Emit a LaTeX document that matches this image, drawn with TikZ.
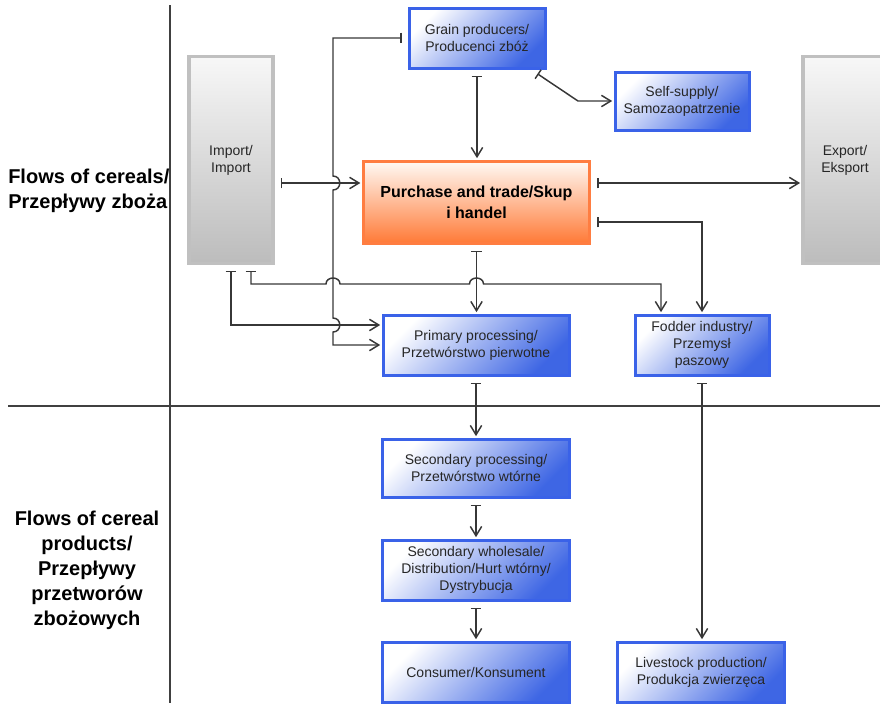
\documentclass[tikz,border=0pt]{standalone}
\usepackage{fontspec}
\setmainfont{Liberation Sans}
\usetikzlibrary{arrows.meta,calc}

\definecolor{boxblue}{RGB}{62,102,228}
\definecolor{edgeblue}{RGB}{58,98,232}
\definecolor{boxorange}{RGB}{255,122,55}
\definecolor{edgeorange}{RGB}{255,125,65}
\definecolor{boxgrey}{RGB}{188,188,188}
\definecolor{edgegrey}{RGB}{192,192,192}
\definecolor{flowgrey}{RGB}{55,55,55}

\tikzset{
  unit/.style={rectangle, draw=edgeblue, line width=2.25pt, top color=white, bottom color=boxblue, shading angle=45,
    align=center, text=black!85, inner sep=2pt, font=\fontsize{10.5}{12.75}\selectfont},
  tradebox/.style={unit, draw=edgeorange, top color=orange!4, bottom color=boxorange, font=\fontsize{12}{16}\selectfont\bfseries, text=black},
  outside/.style={unit, draw=edgegrey, line width=2.4pt, top color=white!97!black, bottom color=boxgrey},
  flow/.style={draw=flowgrey, line width=1.1pt, {Bar[width=8pt]}-{Straight Barb[length=7pt,width=8.5pt]},
    shorten <=4.5pt, shorten >=1pt},
  sidelabel/.style={inner sep=0pt, font=\fontsize{15}{18.75}\selectfont\bfseries},
}

\begin{document}
\begin{tikzpicture}[x=0.75pt,y=0.75pt,yscale=-1,xscale=1]
\clip (0,0) rectangle (880,703);

%Dividers
\draw [color=black!75, line width=0.8pt] (170,5) -- (170,703) ;
\draw [color=black!75, line width=0.8pt] (8,406) -- (880,406) ;

% Text Node
\node [sidelabel, anchor=west, align=left] (cereals) at (8,191) {Flows of cereals/\\Przepływy zboża};
% Text Node
\node [sidelabel, align=center] (products) at (87,570) {Flows of cereal\\products/\\Przepływy\\przetworów\\zbożowych};

%Boxes
\node [unit, minimum width=102pt, minimum height=45pt] (grain) at (477,38) {Grain producers/\\Producenci zbóż};
\node [unit, minimum width=100.5pt, minimum height=43.5pt] (self) at (682,101) {Self-supply/\\Samozaopatrzenie};
\node [outside, minimum width=63pt, minimum height=155pt] (import) at (231,160) {Import/\\Import};
\node [outside, minimum width=63pt, minimum height=155pt] (export) at (845,160) {Export/\\Eksport};
\node [tradebox, minimum width=170pt, minimum height=61.5pt] (trade) at (476.5,202) {Purchase and trade/Skup\\i handel};
\node [unit, minimum width=139.5pt, minimum height=45pt] (prim) at (476,345) {Primary processing/\\Przetwórstwo pierwotne};
\node [unit, minimum width=100.5pt, minimum height=45pt] (fodder) at (702,345) {Fodder industry/\\Przemysł\\paszowy};
\node [unit, minimum width=140pt, minimum height=43.5pt] (sec) at (476,468) {Secondary processing/\\Przetwórstwo wtórne};
\node [unit, minimum width=140pt, minimum height=45pt] (whole) at (476,570) {Secondary wholesale/\\Distribution/Hurt wtórny/\\Dystrybucja};
\node [unit, minimum width=140pt, minimum height=45pt] (cons) at (476,672) {Consumer/Konsument};
\node [unit, minimum width=125pt, minimum height=45pt] (live) at (701,672) {Livestock production/\\Produkcja zwierzęca};

%Flows
\draw [flow] (grain.south) -- (grain.south |- trade.north) ;
\draw [flow] ($(grain.south east)+(-14,1)$) -- (578,101) -- (self.west) ;
\draw [flow] (grain.west) -| (333,176) .. controls (342,176) and (342,190) .. (333,190) -- (333,318) .. controls (342,318) and (342,332) .. (333,332) |- (prim.west) ;
\coordinate (inB) at ($(import.east)+(0,23)$);
\draw [flow] (inB) -- (inB -| trade.west) ;
\coordinate (outF) at ($(trade.east)+(0,-19)$);
\draw [flow] (outF) -- (outF -| export.west) ;
\draw [flow] ($(trade.east)+(0,20)$) -| (fodder.north) ;
\draw [flow] (import.south) |- ($(prim.west)+(0,-20)$) ;
\draw [flow] ($(import.south)+(20,0)$) |- (326,284) .. controls (326,276) and (340,276) .. (340,284) -- (469.5,284) .. controls (469.5,276) and (483.5,276) .. (483.5,284) -| ($(fodder.north)+(-41,0)$) ;
\draw [flow] (trade.south) -- (trade.south |- prim.north) ;
\draw [flow] (prim.south) -- (sec.north) ;
\draw [flow] (sec.south) -- (whole.north) ;
\draw [flow] (whole.south) -- (cons.north) ;
\draw [flow] (fodder.south) -- (fodder.south |- live.north) ;

\end{tikzpicture}
\end{document}
